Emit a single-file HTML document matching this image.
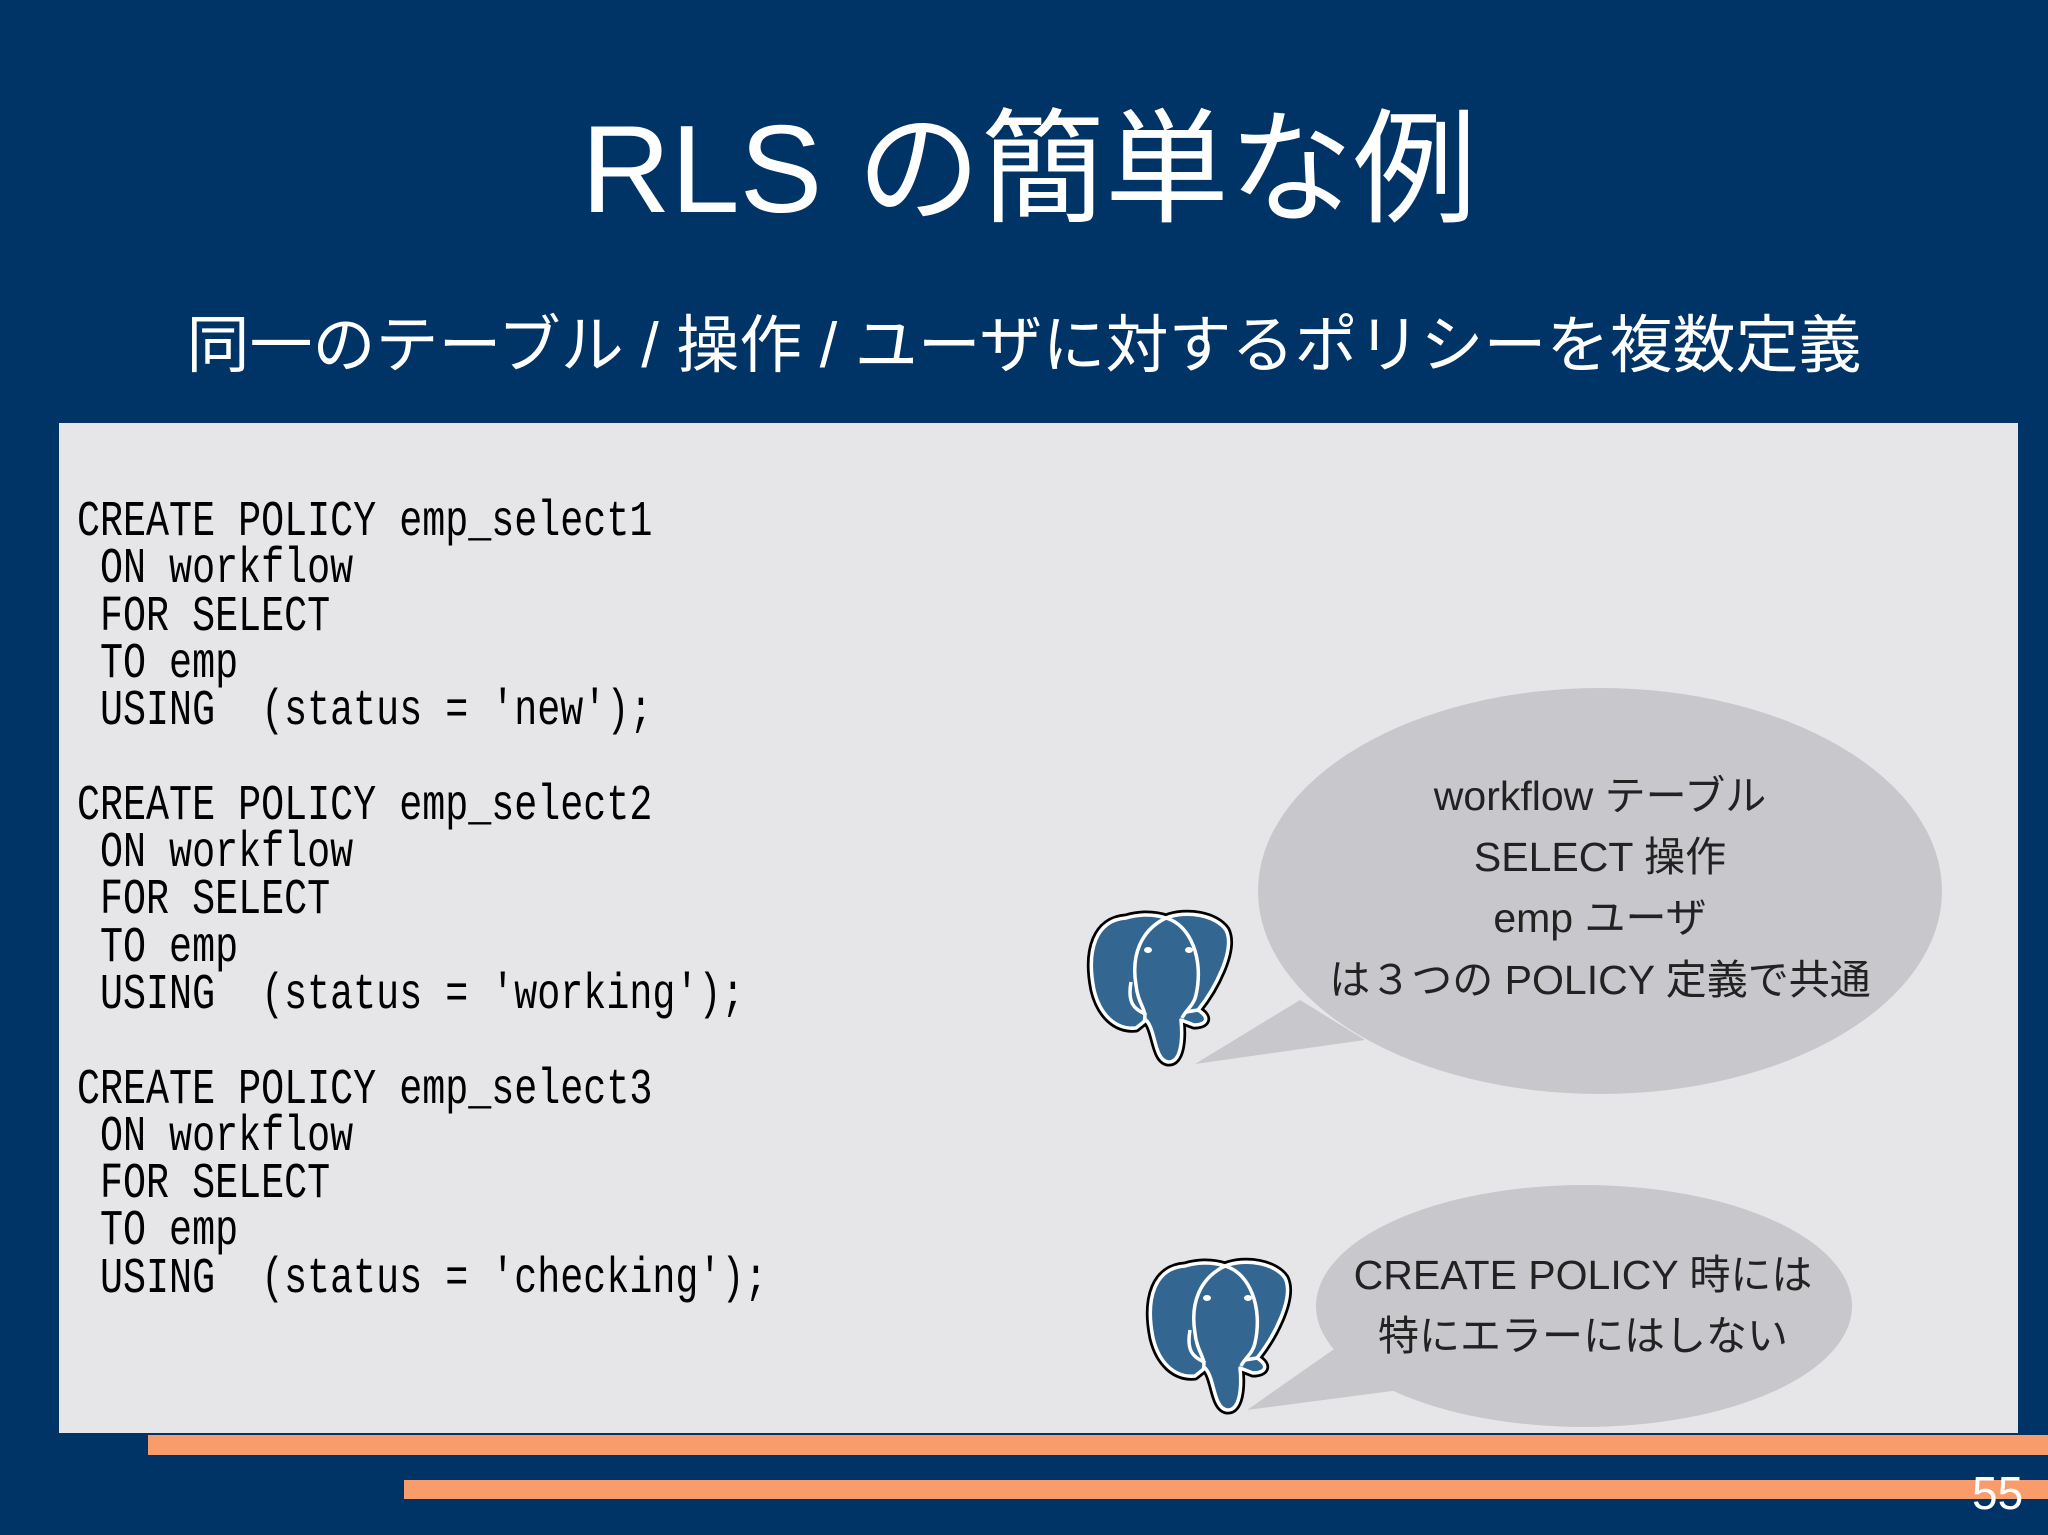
<!DOCTYPE html>
<html><head><meta charset="utf-8"><style>
html,body{margin:0;padding:0}
body{width:2048px;height:1535px;background:#003366;position:relative;overflow:hidden;font-family:"Liberation Sans","Noto Sans CJK JP",sans-serif}
.t{position:absolute;color:#fff;white-space:nowrap}
#title{left:0;width:2048px;text-align:center;top:95px;font-size:124px;line-height:150px;padding-left:10px;box-sizing:border-box}
#sub{left:0;width:2048px;text-align:center;top:306px;font-size:63px;line-height:80px}
#box{position:absolute;left:59px;top:423px;width:1959px;height:1010px;background:#e6e6e8}
.code{position:absolute;left:77px;font-family:"Liberation Mono","Noto Sans CJK JP",monospace;font-size:50px;line-height:47.3px;white-space:pre;color:#000;transform:scaleX(0.767);transform-origin:0 0}
.bar{position:absolute;background:#f89c6c}
.bt{position:absolute;color:#222;font-size:41px;text-align:center;white-space:nowrap}
</style></head><body>
<div class="t" id="title">RLS の簡単な例</div>
<div class="t" id="sub">同一のテーブル / 操作 / ユーザに対するポリシーを複数定義</div>
<div id="box"></div>
<div class="code" style="top:499px">CREATE POLICY emp_select1
 ON workflow
 FOR SELECT
 TO emp
 USING  (status = 'new');

CREATE POLICY emp_select2
 ON workflow
 FOR SELECT
 TO emp
 USING  (status = 'working');

CREATE POLICY emp_select3
 ON workflow
 FOR SELECT
 TO emp
 USING  (status = 'checking');</div>
<svg style="position:absolute;left:0;top:0" width="2048" height="1535">
<defs>
<g id="el">
<path d="M40,8 C10,10 0,40 8,80 C14,105 30,120 50,118 L60,110 C70,120 68,150 82,152 C95,153 97,130 95,110 L108,115 C120,115 125,108 112,100 C128,80 150,40 140,20 C130,5 100,0 80,8 C65,3 50,5 40,8 Z" fill="#336791" stroke="#000" stroke-width="9" stroke-linejoin="round"/>
<path d="M40,8 C10,10 0,40 8,80 C14,105 30,120 50,118 L60,110 C70,120 68,150 82,152 C95,153 97,130 95,110 L108,115 C120,115 125,108 112,100 C128,80 150,40 140,20 C130,5 100,0 80,8 C65,3 50,5 40,8 Z" fill="#336791" stroke="#fff" stroke-width="3.5" stroke-linejoin="round"/>
<path d="M80,8 C55,20 45,45 50,75 C52,95 62,100 58,112 M80,8 C105,15 118,50 110,85 C108,95 100,100 96,108 M45,72 C40,100 55,100 60,105 M112,100 L100,102" fill="none" stroke="#fff" stroke-width="3.5"/>
<ellipse cx="62" cy="40" rx="4" ry="3" fill="#fff"/><ellipse cx="103" cy="40" rx="4" ry="3" fill="#fff"/>
</g>
</defs>
<path d="M1300,1000 L1195,1064 L1365,1040 Z" fill="#c8c8cc"/>
<ellipse cx="1600" cy="891" rx="342" ry="203" fill="#c8c8cc"/>
<path d="M1340,1345 L1247,1410 L1400,1390 Z" fill="#c8c8cc"/>
<ellipse cx="1584" cy="1306" rx="268" ry="121" fill="#c8c8cc"/>
<use href="#el" transform="translate(1086,910)"/>
<use href="#el" transform="translate(1145,1258)"/>
</svg>
<div class="bt" style="left:1260px;width:680px;top:762px">workflow テーブル</div>
<div class="bt" style="left:1260px;width:680px;top:823px">SELECT 操作</div>
<div class="bt" style="left:1260px;width:680px;top:884px">emp ユーザ</div>
<div class="bt" style="left:1260px;width:680px;top:946px">は３つの POLICY 定義で共通</div>
<div class="bt" style="left:1243px;width:680px;top:1241px">CREATE POLICY 時には</div>
<div class="bt" style="left:1243px;width:680px;top:1302px">特にエラーにはしない</div>
<div class="bar" style="left:148px;top:1435px;width:1900px;height:20px"></div>
<div class="bar" style="left:404px;top:1480px;width:1644px;height:19px"></div>
<div class="t" style="left:1972px;top:1466px;font-size:46px;line-height:54px">55</div>
</body></html>
